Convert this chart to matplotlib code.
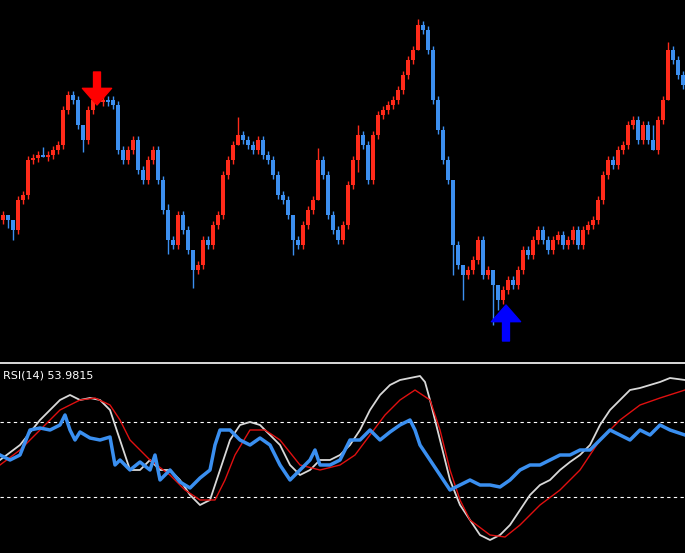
import numpy as np
import matplotlib.pyplot as plt

# price closes, in chart pixel units (top = 0), one candle every 5px
closes = [215, 220, 230, 200, 195, 160, 158, 155, 156, 155, 150, 145, 110, 95, 100, 125, 140, 110,
          100, 102, 100, 100, 105, 150, 160, 150, 140, 170, 180, 160, 150, 180, 210, 240, 245, 215,
          230, 250, 270, 265, 240, 245, 225, 215, 175, 160, 145, 135, 140, 145, 150, 140, 155, 160,
          175, 195, 200, 215, 240, 245, 225, 210, 200, 160, 175, 215, 230, 240, 225, 185, 160, 135,
          145, 180, 135, 115, 110, 105, 100, 90, 75, 60, 50, 25, 30, 50, 100, 130, 160, 180, 245,
          265, 275, 270, 260, 240, 275, 270, 285, 300, 290, 280, 285, 270, 250, 255, 240, 230, 240,
          250, 240, 235, 245, 240, 230, 245, 230, 225, 220, 200, 175, 160, 165, 150, 145, 125, 120,
          140, 125, 140, 150, 120, 100, 50, 60, 75, 85]
long_wicks = {1: (0, 8), 2: (0, 10), 8: (8, 0), 16: (0, 12), 19: (8, 0), 33: (6, 14), 38: (0, 18),
              47: (18, 0), 58: (0, 15), 63: (12, 0), 71: (10, 12), 83: (6, 0), 90: (0, 30),
              92: (0, 25), 98: (0, 40), 99: (0, 10), 130: (15, 0), 133: (8, 0)}

rsi_x = [0, 20, 40, 60, 70, 80, 90, 100, 110, 120, 130, 140, 150, 160, 170, 180, 190, 200, 210, 220,
         230, 240, 250, 260, 270, 280, 290, 300, 310, 320, 330, 340, 350, 360, 370, 380, 390, 400,
         410, 420, 425, 430, 440, 450, 460, 470, 480, 490, 500, 510, 520, 530, 540, 550, 560, 570,
         580, 590, 600, 610, 620, 630, 640, 650, 660, 670, 685]
white_y = [460, 445, 420, 400, 395, 400, 398, 400, 410, 440, 470, 470, 460, 470, 470, 480, 495, 505,
           500, 470, 440, 425, 422, 425, 435, 445, 465, 475, 470, 460, 460, 455, 445, 430, 410, 395,
           385, 380, 378, 376, 382, 400, 440, 480, 505, 520, 535, 540, 535, 525, 510, 495, 485, 480,
           470, 462, 455, 445, 425, 410, 400, 390, 388, 385, 382, 378, 380]
red_x = [0, 20, 40, 60, 80, 95, 110, 120, 130, 150, 170, 185, 200, 215, 225, 235, 250, 265, 280, 300,
         320, 340, 355, 370, 385, 400, 415, 430, 440, 450, 460, 470, 490, 505, 520, 540, 560, 580,
         600, 620, 640, 660, 685]
red_y = [465, 450, 430, 410, 400, 398, 405, 420, 440, 460, 475, 490, 500, 500, 480, 455, 430, 430,
         440, 465, 470, 465, 455, 435, 415, 400, 390, 400, 430, 470, 500, 520, 535, 537, 525, 505,
         490, 470, 440, 420, 405, 398, 390]
blue_x = [0, 10, 20, 30, 40, 50, 60, 65, 70, 75, 80, 90, 100, 110, 115, 120, 130, 140, 150, 155, 160,
          170, 180, 190, 200, 210, 215, 220, 230, 240, 250, 260, 270, 280, 290, 300, 310, 315, 320,
          330, 340, 350, 360, 370, 380, 390, 400, 410, 415, 420, 430, 440, 450, 460, 470, 480, 490,
          500, 510, 520, 530, 540, 550, 560, 570, 580, 590, 600, 610, 620, 630, 640, 650, 660, 670, 685]
blue_y = [455, 460, 455, 430, 428, 430, 425, 415, 430, 440, 432, 438, 440, 437, 465, 460, 470, 462,
          470, 455, 480, 470, 482, 488, 478, 470, 445, 430, 430, 440, 445, 438, 445, 465, 480, 470,
          460, 450, 465, 465, 460, 440, 440, 430, 440, 432, 425, 420, 430, 445, 460, 475, 490, 485,
          480, 485, 485, 487, 480, 470, 465, 465, 460, 455, 455, 450, 450, 440, 430, 435, 440, 430,
          435, 425, 430, 435]

fig = plt.figure(figsize=(6.85, 5.53), dpi=100, facecolor='black')
ax = fig.add_axes([0, 190 / 553, 1, 363 / 553])
ax2 = fig.add_axes([0, 0, 1, 187 / 553])
for a in (ax, ax2):
    a.set_facecolor('black')
    a.set_xticks([])
    a.set_yticks([])
    for s in a.spines.values():
        s.set_visible(False)
    a.set_xlim(0, 685)

prev = closes[0] + 5
for i, c in enumerate(closes):
    x = 3 + i * 5
    o = prev
    up = c < o
    col = '#ff2a1a' if up else '#3c8ff0'
    top, bot = min(o, c), max(o, c)
    if bot - top < 1.5:
        bot = top + 1.5
    wt, wb = long_wicks.get(i, (4, 4))
    ax.vlines(x, top - wt, bot + wb, color=col, lw=1)
    ax.bar(x, bot - top, bottom=top, width=3.4, color=col, lw=0)
    prev = c
ax.set_ylim(363, 0)

ax.annotate('', xy=(97, 105), xytext=(97, 72),
            arrowprops=dict(facecolor='#ff0000', edgecolor='#ff0000', width=5, headwidth=21, headlength=12))
ax.annotate('', xy=(506, 305), xytext=(506, 341),
            arrowprops=dict(facecolor='#0000ff', edgecolor='#0000ff', width=5, headwidth=21, headlength=12))

fig.add_artist(plt.Line2D([0, 1], [1 - 363 / 553] * 2, color='white', lw=1.2))

ax2.set_ylim(553, 366)
ax2.axhline(422, color='white', ls='--', lw=0.8, dashes=(3, 3))
ax2.axhline(497, color='white', ls='--', lw=0.8, dashes=(3, 3))
ax2.plot(rsi_x, white_y, color='#d8d8d8', lw=1.3)
ax2.plot(red_x, red_y, color='#e01010', lw=1)
ax2.plot(blue_x, blue_y, color='#3a8ff0', lw=2.5)
ax2.text(3, 376, 'RSI(14) 53.9815', color='white', fontsize=8, va='center', family='DejaVu Sans')

fig.savefig('out.png', dpi=100, facecolor='black')
